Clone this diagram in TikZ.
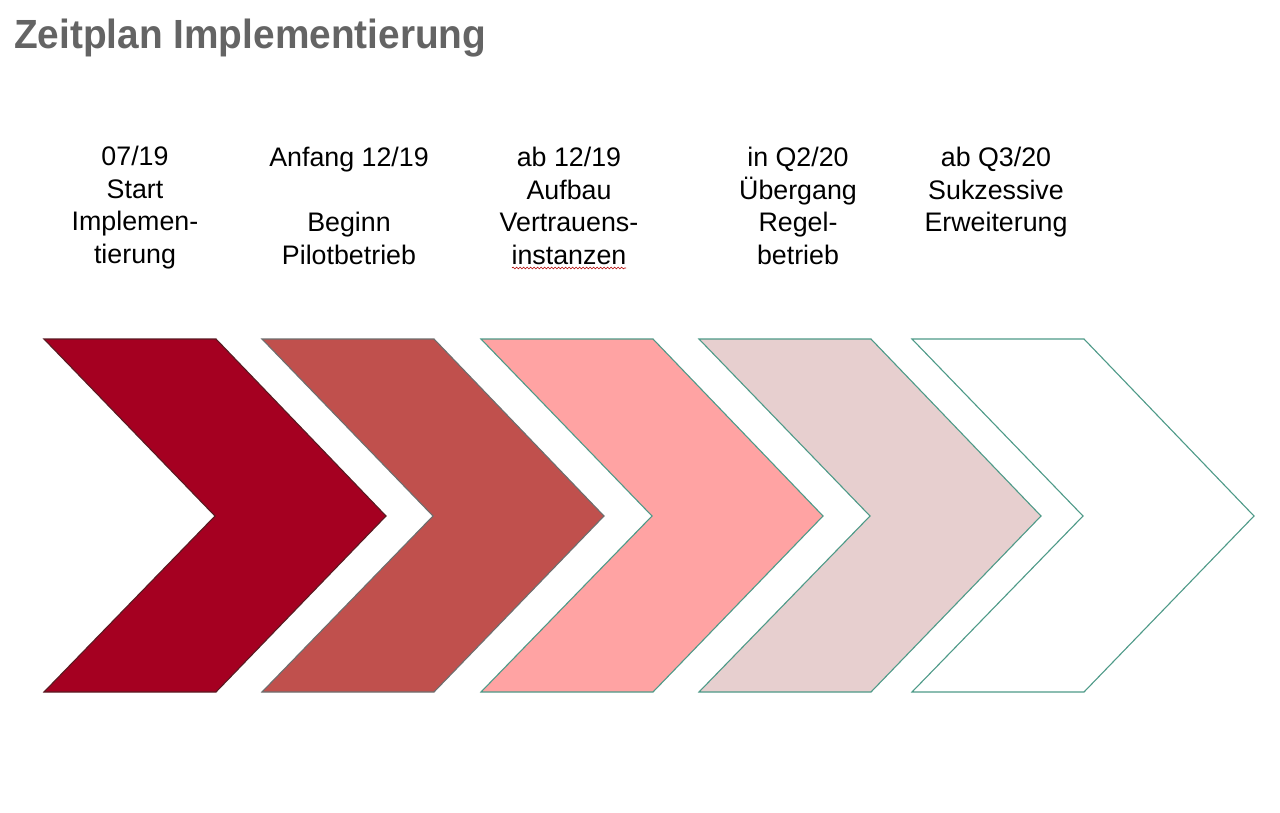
\documentclass[tikz,border=0pt]{standalone}
\usepackage{fontspec}
\setmainfont{Liberation Sans}
\usetikzlibrary{decorations.pathmorphing}
\definecolor{c1}{HTML}{A50021}
\definecolor{c2}{HTML}{C0504D}
\definecolor{c3}{HTML}{FFA3A3}
\definecolor{c4}{HTML}{E7CFCF}
\definecolor{c5}{HTML}{FFFFFF}
\definecolor{o1}{HTML}{5A1A22}
\definecolor{o2}{HTML}{6E6E6E}
\definecolor{o3}{HTML}{4E9A88}
\definecolor{titlegray}{HTML}{646464}
\begin{document}
\begin{tikzpicture}[x=1pt,y=-1pt,
  chev/.style={line width=1.1pt,line join=miter},
  lbl/.style={anchor=north,inner sep=0pt,align=center,font=\fontsize{26.8}{32.5}\selectfont},
  ttl/.style={anchor=base west,inner sep=0pt,text=titlegray,font=\fontsize{38.8}{44}\selectfont\bfseries}]
\useasboundingbox (0,0) rectangle (1280,812);
\fill[white] (0,0) rectangle (1280,812);
% chevrons: left x, fill, outline
\foreach \L/\F/\O in {44/c1/o1, 262/c2/o2, 481/c3/o3, 699/c4/o3, 912/c5/o3}{
  \filldraw[chev,fill=\F,draw=\O] (\L,339) -- ({\L+172},339) -- ({\L+342},516)
     -- ({\L+172},692) -- (\L,692) -- ({\L+171},516) -- cycle;
}
\node[ttl] (title) at (14,48) {\scalebox{1}[1.05]{Zeitplan Implementierung}};
\node[lbl] (t1) at (135,146) {07/19\\Start\\Implemen-\\tierung};
\node[lbl] (t2) at (349,147) {Anfang 12/19\\\mbox{}\\Beginn\\Pilotbetrieb};
\node[lbl] (t3) at (569,147) {ab 12/19\\Aufbau\\Vertrauens-\\instanzen};
\node[lbl] (t4) at (798,147) {in Q2/20\\Übergang\\Regel-\\betrieb};
\node[lbl] (t5) at (996,147) {ab Q3/20\\Sukzessive\\Erweiterung};
\coordinate (w1) at (512,268);
\coordinate (w2) at (626,268);
\draw[red!70!black,line width=0.6pt,decorate,decoration={snake,amplitude=0.9pt,segment length=3.5pt}] (w1) -- (w2);
\end{tikzpicture}
\end{document}
